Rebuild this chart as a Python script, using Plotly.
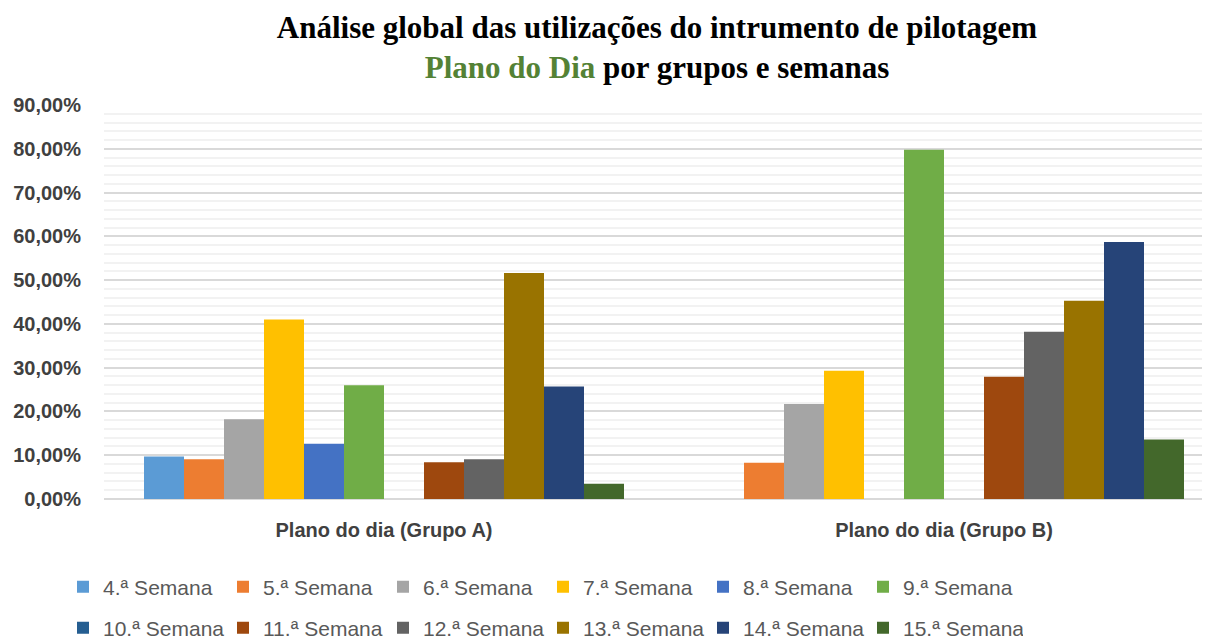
import plotly.graph_objects as go

categories = ["Plano do dia (Grupo A)", "Plano do dia (Grupo B)"]
weeks = ["4.ª Semana", "5.ª Semana", "6.ª Semana", "7.ª Semana", "8.ª Semana", "9.ª Semana",
         "10.ª Semana", "11.ª Semana", "12.ª Semana", "13.ª Semana", "14.ª Semana", "15.ª Semana"]
grupo_a = [0.097, 0.091, 0.182, 0.410, 0.126, 0.260, None, 0.084, 0.091, 0.516, 0.257, 0.035]
grupo_b = [None, 0.083, 0.217, 0.293, None, 0.798, None, 0.279, 0.382, 0.453, 0.587, 0.136]
colors = ["#5B9BD5", "#ED7D31", "#A5A5A5", "#FFC000", "#4472C4", "#70AD47",
          "#255E91", "#9E480E", "#636363", "#997300", "#264478", "#43682B"]

fig = go.Figure()
for i, w in enumerate(weeks):
    fig.add_trace(go.Bar(
        x=categories, y=[grupo_a[i], grupo_b[i]], name=w,
        marker=dict(color=colors[i], line=dict(width=0)),
        legend="legend" if i < 6 else "legend2",
    ))

legend_font = dict(family="Liberation Sans", size=21, color="#595959")
common_legend = dict(
    orientation="h", xref="container", yref="container",
    x=55/1210, xanchor="left", yanchor="middle",
    entrywidth=115, entrywidthmode="pixels", font=legend_font,
    itemclick=False, bgcolor="rgba(0,0,0,0)", borderwidth=0,
)
fig.update_layout(
    width=1210, height=639,
    paper_bgcolor="white", plot_bgcolor="white",
    margin=dict(l=96, r=0, t=97, b=148, autoexpand=False),
    barmode="group", bargap=80/560, bargroupgap=0,
    separators=",.",
    title=dict(
        text="<b>Análise global das utilizações do intrumento de pilotagem</b><br>"
             "<b><span style='color:#548235'>Plano do Dia</span> por grupos e semanas</b>",
        x=649/1210, xanchor="center", yref="container", y=1 - 30/639, yanchor="middle",
        font=dict(family="Liberation Serif", size=31, color="black"),
    ),
    xaxis=dict(
        type="category", range=[-0.5, 1.5 - 6/560],
        showgrid=False, showline=False, ticks="", ticklabelstandoff=17,
        tickfont=dict(family="Liberation Sans", size=20, color="#404040", weight="bold"),
    ),
    yaxis=dict(
        range=[0, 0.9], dtick=0.1, tickformat=".2%",
        showgrid=True, gridcolor="#D9D9D9", gridwidth=1.5,
        minor=dict(dtick=0.02, showgrid=True, gridcolor="#F2F2F2", gridwidth=1.5),
        zeroline=True, zerolinecolor="#D9D9D9", zerolinewidth=1.5,
        tickfont=dict(family="Liberation Sans", size=20, color="#404040", weight="bold"),
        ticks="", ticklabelstandoff=22,
    ),
    legend=dict(common_legend, y=1 - (587 - 8)/639),
    legend2=dict(common_legend, y=1 - (628 - 8)/639),
)

fig.write_html("out.html")
